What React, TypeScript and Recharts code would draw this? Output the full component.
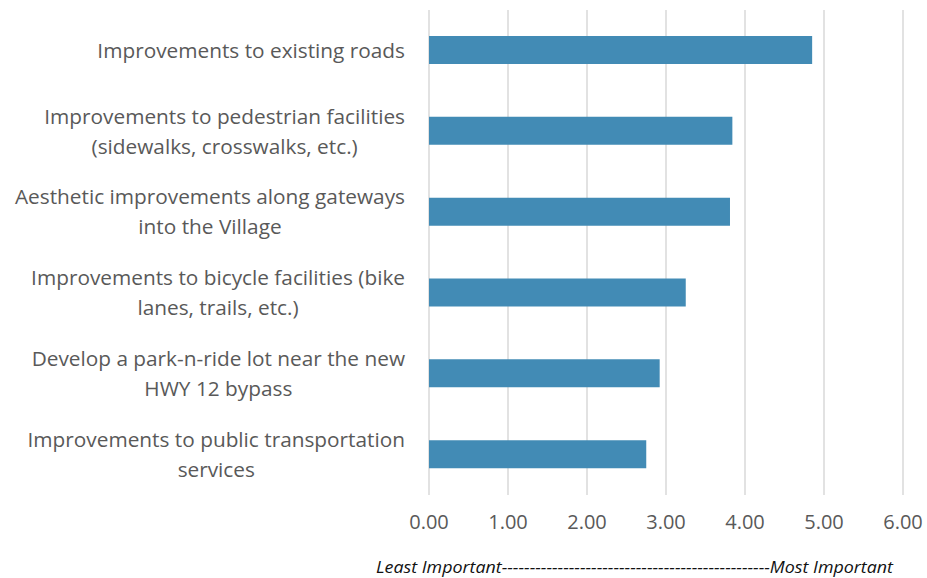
import React from 'react';
import { BarChart, Bar, XAxis, YAxis, CartesianGrid } from 'recharts';

const categories = [
  'Improvements to existing roads',
  'Improvements to pedestrian facilities\n(sidewalks, crosswalks, etc.)',
  'Aesthetic improvements along gateways\ninto the Village',
  'Improvements to bicycle facilities (bike\nlanes, trails, etc.)',
  'Develop a park-n-ride lot near the new\nHWY 12 bypass',
  'Improvements to public transportation\nservices',
];
const scores = [4.85, 3.84, 3.81, 3.25, 2.92, 2.75];
const xTicks = [0, 1, 2, 3, 4, 5, 6];
const axisTitle = 'Least Important------------------------------------------------Most Important';

const data = categories.map((name, i) => ({ name, score: scores[i] }));

const FONT = '"Open Sans", sans-serif';
const TEXT = '#595959';
const LABEL_SIZE = 20.8;

let ctx: CanvasRenderingContext2D | null = null;
const textWidth = (s: string, size: number) => {
  if (!ctx) ctx = document.createElement('canvas').getContext('2d');
  if (!ctx) return s.length * size * 0.5;
  ctx.font = `${size}px "Open Sans"`;
  return ctx.measureText(s).width;
};

// category labels: lines centred on each other, block right-aligned to the axis
const CategoryTick = (props: any) => {
  const { x, y, payload } = props;
  const lines: string[] = String(payload.value).split('\n');
  const maxW = Math.max(...lines.map((l) => textWidth(l, LABEL_SIZE)));
  const cx = x - maxW / 2;
  const lineH = 30;
  const top = y - ((lines.length - 1) * lineH) / 2;
  return (
    <text textAnchor="middle" fill={TEXT} fontSize={LABEL_SIZE} fontFamily={FONT}>
      {lines.map((l, i) => (
        <tspan key={i} x={cx} y={top + i * lineH} dy="0.35em">
          {l}
        </tspan>
      ))}
    </text>
  );
};

const ValueTick = (props: any) => {
  const { x, y, payload } = props;
  return (
    <text x={x} y={y} dy="0.35em" textAnchor="middle" fill={TEXT} fontSize={20} fontFamily={FONT}>
      {Number(payload.value).toFixed(2)}
    </text>
  );
};

const AxisTitle = (props: any) => {
  const { viewBox } = props;
  return (
    <text
      x={viewBox.x - 53}
      y={573}
      fill="#111"
      fontSize={15.5}
      fontStyle="italic"
      fontFamily={FONT}
      textLength={517}
      lengthAdjust="spacingAndGlyphs"
    >
      {axisTitle}
    </text>
  );
};

export default function App() {
  return (
    <div style={{ position: 'absolute', left: 0, top: 0, width: 927, height: 578, background: '#fff' }}>
      <BarChart
        width={927}
        height={578}
        data={data}
        layout="vertical"
        margin={{ top: 10, right: 24, bottom: 0, left: 0 }}
      >
        <CartesianGrid horizontal={false} stroke="#d9d9d9" strokeWidth={1.5} />
        <XAxis
          type="number"
          domain={[0, 6]}
          ticks={xTicks}
          axisLine={false}
          tickLine={false}
          tickSize={0}
          tickMargin={27}
          height={83}
          tick={<ValueTick />}
          label={<AxisTitle />}
          interval={0}
        />
        <YAxis
          type="category"
          dataKey="name"
          width={429}
          axisLine={false}
          tickLine={false}
          tickSize={0}
          tickMargin={24}
          tick={<CategoryTick />}
          interval={0}
        />
        <Bar dataKey="score" fill="#428bb5" barSize={28} isAnimationActive={false} />
      </BarChart>
    </div>
  );
}
